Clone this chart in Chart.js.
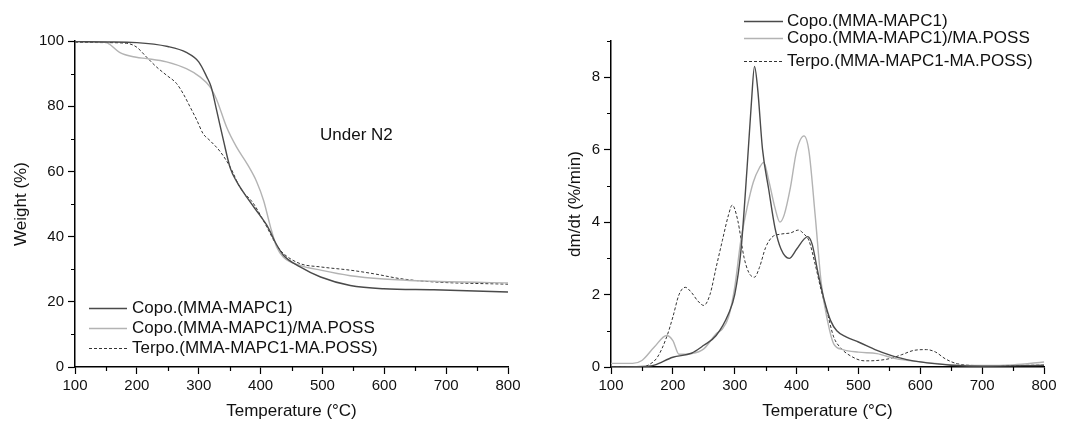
<!DOCTYPE html>
<html>
<head>
<meta charset="utf-8">
<title>TGA / DTG</title>
<script src="https://cdn.jsdelivr.net/npm/chart.js@4.4.1/dist/chart.umd.min.js"></script>
<style>
  body { margin: 0; background: #fff; }
  .panel { position: absolute; top: 0; width: 536px; height: 422px; }
</style>
</head>
<body>
<div class="panel" style="left:0"><canvas id="tga" width="536" height="422"></canvas></div>
<div class="panel" style="left:536px"><canvas id="dtg" width="536" height="422"></canvas></div>
<script>
// series names
const seriesNames = ['Copo.(MMA-MAPC1)', 'Copo.(MMA-MAPC1)/MA.POSS', 'Terpo.(MMA-MAPC1-MA.POSS)'];

// TGA: weight (%) vs temperature (°C)
const tgaCopoT = [100, 150, 200, 250, 280, 300, 313, 320, 329, 340, 351, 361, 378, 399, 410, 426, 437, 464, 497, 545, 599, 680, 800];
const tgaCopoW = [99.8, 99.7, 99.5, 98.3, 96.5, 93.6, 89, 86, 78.7, 69.5, 61, 57, 52, 46.5, 43.5, 37.5, 34.3, 30.7, 27.6, 25, 24, 23.7, 23];

const tgaPossT = [100, 150, 156, 172, 199, 216, 248, 280, 302, 318, 329, 345, 361, 378, 394, 405, 416, 426, 437, 464, 497, 545, 599, 680, 800];
const tgaPossW = [99.8, 99.6, 99, 96.5, 95, 94.6, 93.6, 91.5, 89, 86, 82, 73.6, 67.5, 62.4, 56.7, 51, 43, 36.8, 33.7, 31.2, 29.7, 28, 27, 26.3, 25.8];

const tgaTerpoT = [100, 150, 183, 199, 216, 232, 248, 264, 275, 286, 297, 307, 318, 335, 351, 367, 389, 410, 426, 437, 464, 497, 545, 583, 626, 680, 800];
const tgaTerpoW = [99.6, 99.5, 99.3, 98.2, 95, 92, 89.5, 87, 83.8, 79.8, 75.7, 71.6, 69.5, 66, 61.3, 55, 50, 43, 37.3, 34.8, 31.7, 30.7, 29.7, 28.6, 27.1, 26.1, 25.4];

// DTG: dm/dt (%/min) vs temperature (°C)
const dtgCopoT = [100, 160, 170, 200, 230, 250, 270, 290, 300, 310, 320, 327, 332, 337, 345, 355, 365, 375, 388, 400, 412, 418, 425, 435, 445, 455, 465, 480, 500, 530, 560, 600, 650, 700, 800];
const dtgCopoV = [0, 0.02, 0.05, 0.27, 0.38, 0.6, 0.87, 1.47, 2.0, 3.2, 5.5, 7.3, 8.3, 7.7, 6.0, 4.9, 3.85, 3.25, 3.0, 3.25, 3.53, 3.6, 3.4, 2.57, 1.83, 1.28, 1.0, 0.83, 0.69, 0.46, 0.28, 0.14, 0.05, 0.02, 0.05];

const dtgPossT = [100, 135, 150, 170, 190, 200, 210, 230, 250, 270, 280, 290, 300, 310, 320, 330, 340, 347, 355, 365, 373, 380, 390, 400, 412, 420, 430, 440, 450, 460, 475, 500, 530, 560, 600, 650, 700, 750, 800];
const dtgPossV = [0.1, 0.1, 0.18, 0.55, 0.87, 0.73, 0.35, 0.37, 0.5, 0.92, 1.05, 1.38, 2.2, 3.5, 4.4, 5.1, 5.5, 5.65, 5.15, 4.4, 4.0, 4.2, 4.95, 5.96, 6.38, 5.96, 4.2, 2.3, 1.28, 0.64, 0.48, 0.41, 0.37, 0.23, 0.14, 0.06, 0.04, 0.06, 0.14];

const dtgTerpoT = [100, 150, 160, 175, 190, 200, 210, 220, 230, 240, 250, 260, 270, 280, 290, 296, 305, 315, 323, 332, 340, 350, 360, 375, 390, 403, 412, 420, 430, 440, 450, 460, 470, 490, 510, 530, 550, 570, 590, 610, 625, 640, 660, 700, 800];
const dtgTerpoV = [0, 0, 0.05, 0.27, 0.83, 1.38, 2.0, 2.2, 2.06, 1.83, 1.7, 2.0, 2.75, 3.49, 4.2, 4.47, 4.04, 3.03, 2.6, 2.48, 2.75, 3.3, 3.58, 3.67, 3.7, 3.78, 3.67, 3.49, 2.84, 2.1, 1.47, 0.83, 0.55, 0.28, 0.17, 0.18, 0.23, 0.34, 0.46, 0.48, 0.41, 0.23, 0.09, 0.04, 0.05];

// axis ticks
const xMinor = [150, 250, 350, 450, 550, 650, 750];
const tgaYMinor = [10, 30, 50, 70, 90];
const dtgYMinor = [1, 3, 5, 7, 9];

const FONT = '"Liberation Sans", Arial, sans-serif';
Chart.defaults.font.family = FONT;
Chart.defaults.color = '#111';

function toPoints(xs, ys) {
    return xs.map((x, i) => ({ x: x, y: ys[i] }));
}

function makeDatasets(copo, poss, terpo) {
    return [
        { label: seriesNames[0], data: copo, borderColor: '#4a4a4a', borderWidth: 1.4 },
        { label: seriesNames[1], data: poss, borderColor: '#b3b3b3', borderWidth: 1.4 },
        { label: seriesNames[2], data: terpo, borderColor: '#333333', borderWidth: 1, borderDash: [3, 2] }
    ].map(d => Object.assign(d, { pointRadius: 0, fill: false, cubicInterpolationMode: 'monotone' }));
}

// minor ticks drawn through the scales
const minorTicks = {
    id: 'minorTicks',
    afterDraw(chart, args, opts) {
        const ctx = chart.ctx;
        const xs = chart.scales.x, ys = chart.scales.y;
        ctx.save();
        ctx.strokeStyle = '#000';
        ctx.lineWidth = 1.2;
        ctx.beginPath();
        opts.x.forEach(v => {
            const px = Math.round(xs.getPixelForValue(v)) + 0.5;
            ctx.moveTo(px, xs.top);
            ctx.lineTo(px, xs.top + 4);
        });
        opts.y.forEach(v => {
            const py = Math.round(ys.getPixelForValue(v)) + 0.5;
            ctx.moveTo(ys.right, py);
            ctx.lineTo(ys.right - 4, py);
        });
        ctx.stroke();
        ctx.restore();
    }
};

// legend drawn over the plot
const lineLegend = {
    id: 'lineLegend',
    afterDatasetsDraw(chart, args, opts) {
        const ctx = chart.ctx;
        ctx.save();
        ctx.font = opts.fontSize + 'px ' + FONT;
        ctx.textBaseline = 'middle';
        ctx.fillStyle = '#111';
        chart.data.datasets.forEach((ds, i) => {
            const y = opts.rows[i];
            ctx.strokeStyle = ds.borderColor;
            ctx.lineWidth = ds.borderWidth;
            ctx.setLineDash(ds.borderDash || []);
            ctx.beginPath();
            ctx.moveTo(opts.x1, y + 0.5);
            ctx.lineTo(opts.x2, y + 0.5);
            ctx.stroke();
            ctx.setLineDash([]);
            ctx.fillText(ds.label, opts.textX, y);
        });
        if (opts.note) {
            ctx.font = opts.note.size + 'px ' + FONT;
            ctx.textAlign = 'center';
            const px = chart.scales.x.getPixelForValue(opts.note.x);
            const py = chart.scales.y.getPixelForValue(opts.note.y);
            ctx.fillText(opts.note.text, px, py);
        }
        ctx.restore();
    }
};

function axisOptions(min, max, step, title, titlePad, isX) {
    return {
        type: 'linear',
        min: min,
        max: max,
        afterFit: isX ? (s => { s.height = 55; }) : (s => { s.width = 75; }),
        ticks: {
            stepSize: step,
            includeBounds: false,
            padding: isX ? 3 : 4,
            color: '#111',
            font: { size: 15 },
            maxRotation: 0
        },
        grid: { drawOnChartArea: false, drawTicks: true, tickLength: 7, tickColor: '#000', tickWidth: 1.2 },
        border: { display: true, color: '#000', width: 1.5 },
        title: {
            display: true,
            text: title,
            color: '#111',
            font: { size: 17 },
            padding: titlePad
        }
    };
}

function makeChart(id, datasets, yMin, yMax, yStep, yTitle, yTitlePad, yMinor, legendOpts) {
    return new Chart(document.getElementById(id), {
        type: 'line',
        data: { datasets: datasets },
        options: {
            responsive: false,
            animation: false,
            layout: { padding: { left: 0, right: 28, top: 41, bottom: 0 } },
            plugins: {
                legend: { display: false },
                tooltip: { enabled: false },
                minorTicks: { x: xMinor, y: yMinor },
                lineLegend: legendOpts
            },
            scales: {
                x: axisOptions(100, 800, 100, 'Temperature (°C)', { top: 0, bottom: 0 }, true),
                y: axisOptions(yMin, yMax, yStep, yTitle, yTitlePad, false)
            }
        },
        plugins: [minorTicks, lineLegend]
    });
}

makeChart('tga',
    makeDatasets(toPoints(tgaCopoT, tgaCopoW), toPoints(tgaPossT, tgaPossW), toPoints(tgaTerpoT, tgaTerpoW)),
    0, 100, 20, 'Weight (%)', { top: 11, bottom: 0 }, tgaYMinor,
    { x1: 89, x2: 127, textX: 132, rows: [308, 328, 348], fontSize: 17,
      note: { text: 'Under N2', x: 555, y: 71, size: 17 } });

makeChart('dtg',
    makeDatasets(toPoints(dtgCopoT, dtgCopoV), toPoints(dtgPossT, dtgPossV), toPoints(dtgTerpoT, dtgTerpoV)),
    0, 9, 2, 'dm/dt (%/min)', { top: 29, bottom: 0 }, dtgYMinor,
    { x1: 208, x2: 247, textX: 251, rows: [21, 38, 61], fontSize: 17 });
</script>
</body>
</html>
